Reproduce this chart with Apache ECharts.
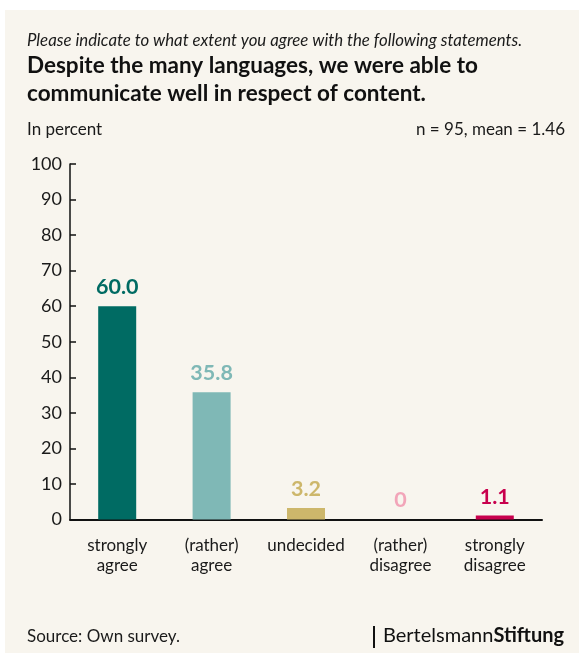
<!DOCTYPE html>
<html><head><meta charset="utf-8">
<script src="https://cdn.jsdelivr.net/npm/echarts@6/dist/echarts.min.js"></script>
<style>
html,body{margin:0;padding:0;background:#ffffff;width:579px;height:655px;overflow:hidden;}
#panel{position:absolute;left:5px;top:10px;width:574px;height:643px;background:#f8f5ee;}
#c{position:absolute;left:0;top:0;width:579px;height:655px;}
</style></head>
<body><div id="panel"></div><div id="c"></div>
<script>
const categories = ['strongly\nagree', '(rather)\nagree', 'undecided', '(rather)\ndisagree', 'strongly\ndisagree'];
const values = [60.0, 35.8, 3.2, 0, 1.1];
const valueLabels = ['60.0', '35.8', '3.2', '0', '1.1'];
const barColors = ['#006b63', '#7fb8b6', '#cdb76b', '#f2a5b9', '#c8004d'];
const labelColors = ['#006b63', '#7fb8b6', '#cdb76b', '#f2a5b9', '#c8004d'];
const yTicks = [0, 100, 10];

const chart = echarts.init(document.getElementById('c'), null, {renderer: 'canvas'});
const F = 'Lato, sans-serif';
chart.setOption({
  backgroundColor: 'transparent',
  animation: false,
  title: [
    {text: 'Please indicate to what extent you agree with the following statements.', left: 27, top: 32, padding: 0,
     textStyle: {fontFamily: F, fontSize: 16.8, fontStyle: 'italic', fontWeight: 'normal', color: '#1a1a1a'}},
    {text: 'Despite the many languages, we were able to\ncommunicate well in respect of content.', left: 27, top: 52, padding: 0,
     textStyle: {fontFamily: F, fontSize: 22.5, fontWeight: 'bold', color: '#111', lineHeight: 28}},
    {text: 'In percent', left: 27, top: 121, padding: 0,
     textStyle: {fontFamily: F, fontSize: 17, fontWeight: 'normal', color: '#1a1a1a'}},
    {text: 'n = 95, mean = 1.46', right: 14, top: 121, padding: 0,
     textStyle: {fontFamily: F, fontSize: 17, fontWeight: 'normal', color: '#1a1a1a'}},
    {text: 'Source: Own survey.', left: 27, top: 628, padding: 0,
     textStyle: {fontFamily: F, fontSize: 17, fontWeight: 'normal', color: '#1a1a1a'}},
    {text: '{a|Bertelsmann}{b|Stiftung}', left: 383, top: 626, padding: 0,
     textStyle: {rich: {a: {fontFamily: F, fontSize: 20, fontWeight: 'normal', color: '#111'}, b: {fontFamily: F, fontSize: 20, fontWeight: 'bold', color: '#111'}}}}
  ],
  graphic: [
    {type: 'rect', shape: {x: 373, y: 626, width: 2, height: 22}, style: {fill: '#111'}}
  ],
  grid: {left: 70, right: 37, top: 164, bottom: 135.5, containLabel: false},
  xAxis: {
    type: 'category', data: categories,
    axisLine: {lineStyle: {color: '#111', width: 2}},
    axisTick: {show: false},
    axisLabel: {interval: 0, fontFamily: F, fontSize: 17, color: '#1a1a1a', lineHeight: 20, margin: 16}
  },
  yAxis: {
    type: 'value', min: yTicks[0], max: yTicks[1], interval: yTicks[2],
    splitLine: {show: false},
    axisLine: {show: true, lineStyle: {color: '#111', width: 1.5}},
    axisTick: {show: true, inside: true, length: 6, lineStyle: {color: '#111', width: 1.5}},
    axisLabel: {fontFamily: F, fontSize: 18, color: '#1a1a1a', margin: 8}
  },
  series: [{
    type: 'bar', barWidth: 38,
    data: values.map((v, i) => ({value: v, itemStyle: {color: barColors[i]},
      label: {color: labelColors[i], formatter: valueLabels[i]}})),
    label: {show: true, position: 'top', distance: 8, fontFamily: F, fontSize: 21.5, fontWeight: 'bold'}
  }]
});
</script></body></html>
